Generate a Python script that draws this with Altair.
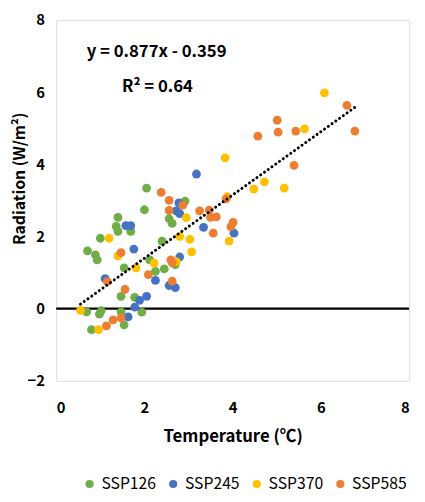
import altair as alt
import pandas as pd

# ---- data ----
ssp126_x = [2.05, 2.0, 2.92, 1.4, 1.36, 1.4, 1.69, 2.56, 2.63, 1.0, 0.71, 0.89, 0.93, 2.4,
            1.54, 2.12, 2.25, 2.45, 2.7, 1.47, 1.78, 0.69, 0.98, 1.02, 1.47, 1.94, 1.54, 0.8]
ssp126_y = [3.34, 2.74, 2.98, 2.53, 2.28, 2.14, 2.14, 2.49, 2.36, 1.95, 1.6, 1.49, 1.35, 1.87,
            1.13, 1.35, 1.03, 1.1, 1.22, 0.34, 0.31, -0.09, -0.15, -0.06, -0.09, -0.1, -0.45, -0.58]

ssp245_x = [3.18, 1.58, 1.69, 1.76, 2.78, 2.72, 2.8, 3.34, 4.03, 2.8, 1.11, 2.25, 2.56, 2.7,
            2.05, 1.89, 1.78, 1.63]
ssp245_y = [3.73, 2.3, 2.3, 1.65, 2.93, 2.71, 2.63, 2.25, 2.09, 1.43, 0.83, 0.78, 0.64, 0.58,
            0.34, 0.23, 0.04, -0.23]

ssp370_x = [6.08, 5.63, 3.83, 4.48, 4.72, 5.17, 3.88, 3.92, 2.95, 1.2, 2.8, 3.03, 3.07, 1.4,
            2.22, 1.81, 2.72, 0.55, 0.96]
ssp370_y = [5.98, 4.98, 4.18, 3.31, 3.51, 3.34, 3.1, 1.87, 2.52, 1.95, 2.0, 1.92, 1.57, 1.46,
            1.26, 1.13, 1.3, -0.05, -0.58]

ssp585_x = [6.59, 6.77, 5.01, 5.03, 5.43, 4.57, 5.39, 3.85, 3.25, 3.47, 3.5, 3.63, 4.01, 3.96,
            3.56, 2.38, 2.56, 2.87, 2.56, 1.47, 1.16, 1.56, 2.09, 2.6, 2.63, 2.63, 1.14, 1.29, 1.47]
ssp585_y = [5.63, 4.92, 5.22, 4.89, 4.92, 4.78, 3.97, 3.04, 2.71, 2.73, 2.53, 2.54, 2.39, 2.27,
            2.09, 3.22, 3.0, 2.87, 2.72, 1.55, 0.75, 0.53, 0.94, 1.35, 1.27, 0.76, -0.48, -0.31, -0.26]

series_names = ["SSP126", "SSP245", "SSP370", "SSP585"]
series_colors = ["#70AD47", "#4472C4", "#FFC000", "#ED7D31"]

slope = 0.877
intercept = -0.359
eq_text = "y = 0.877x - 0.359"
r2_text = "R² = 0.64"

x_ticks = [0, 2, 4, 6, 8]
y_ticks = [-2, 0, 2, 4, 6, 8]

# ---- tables ----
rows = []
for name, xs, ys in zip(series_names,
                        [ssp126_x, ssp245_x, ssp370_x, ssp585_x],
                        [ssp126_y, ssp245_y, ssp370_y, ssp585_y]):
    for xv, yv in zip(xs, ys):
        rows.append({"series": name, "temp": xv, "rad": yv})
df = pd.DataFrame(rows)

xmin, xmax = df["temp"].min(), df["temp"].max()
trend = pd.DataFrame({"temp": [xmin, xmax],
                      "rad": [slope * xmin + intercept, slope * xmax + intercept]})

FONT = "Noto Sans CJK KR"
W, H = 359, 367

xscale = alt.Scale(domain=[0, 8], nice=False)
yscale = alt.Scale(domain=[-2, 8], nice=False)

points = alt.Chart(df).mark_circle(size=80, opacity=1).encode(
    x=alt.X("temp:Q", scale=xscale,
            axis=alt.Axis(title="Temperature (℃)", values=x_ticks, grid=False, ticks=False,
                          domain=False, labelPadding=20, titlePadding=14,
                          labelFontSize=15, labelFontWeight="bold", titleFontSize=17,
                          titleFontWeight="bold", labelColor="black", titleColor="black",
                          labelFont=FONT, titleFont=FONT)),
    y=alt.Y("rad:Q", scale=yscale,
            axis=alt.Axis(title="Radiation (W/m²)", values=y_ticks, grid=False, ticks=False,
                          domain=False, labelPadding=12, labelFontSize=15,
                          labelFontWeight="bold", titleFontSize=16, titleFontWeight="bold",
                          labelColor="black", titleColor="black", labelFont=FONT,
                          titleFont=FONT, titleX=-37, titleY=161, titleAngle=-90,
                          titleAlign="center", titleBaseline="middle")),
    color=alt.Color("series:N",
                    scale=alt.Scale(domain=series_names, range=series_colors),
                    legend=alt.Legend(title=None, orient="none", direction="horizontal",
                                      legendX=26, legendY=464, symbolType="circle",
                                      symbolSize=70, labelFontSize=16, labelFont=FONT,
                                      labelColor="black", columnPadding=9, labelOffset=4)),
    order=alt.Order("series:N"),
)

zero = alt.Chart(pd.DataFrame({"rad": [0]})).mark_rule(color="black", strokeWidth=2.5).encode(
    y=alt.Y("rad:Q", scale=yscale), x=alt.value(0), x2=alt.value(W))

line = alt.Chart(trend).mark_line(color="black", strokeWidth=3, strokeDash=[0.1, 4.6],
                                  strokeCap="round").encode(
    x=alt.X("temp:Q", scale=xscale), y=alt.Y("rad:Q", scale=yscale))

eq = alt.Chart(pd.DataFrame({"t": [eq_text]})).mark_text(
    align="left", baseline="middle", fontSize=17, fontWeight="bold", font=FONT, color="black"
).encode(x=alt.value(31), y=alt.value(33), text="t:N")

r2 = alt.Chart(pd.DataFrame({"t": [r2_text]})).mark_text(
    align="left", baseline="middle", fontSize=17, fontWeight="bold", font=FONT, color="black"
).encode(x=alt.value(67), y=alt.value(68), text="t:N")

chart = alt.layer(zero, points, line, eq, r2).properties(
    width=W, height=H,
    padding={"left": 49, "top": 8, "right": 8, "bottom": 110},
    autosize=alt.AutoSizeParams(type="none"),
).configure_view(stroke="black", strokeWidth=2).configure(background="white")

chart.save("out.html", embed_options={"renderer": "svg", "actions": False})
